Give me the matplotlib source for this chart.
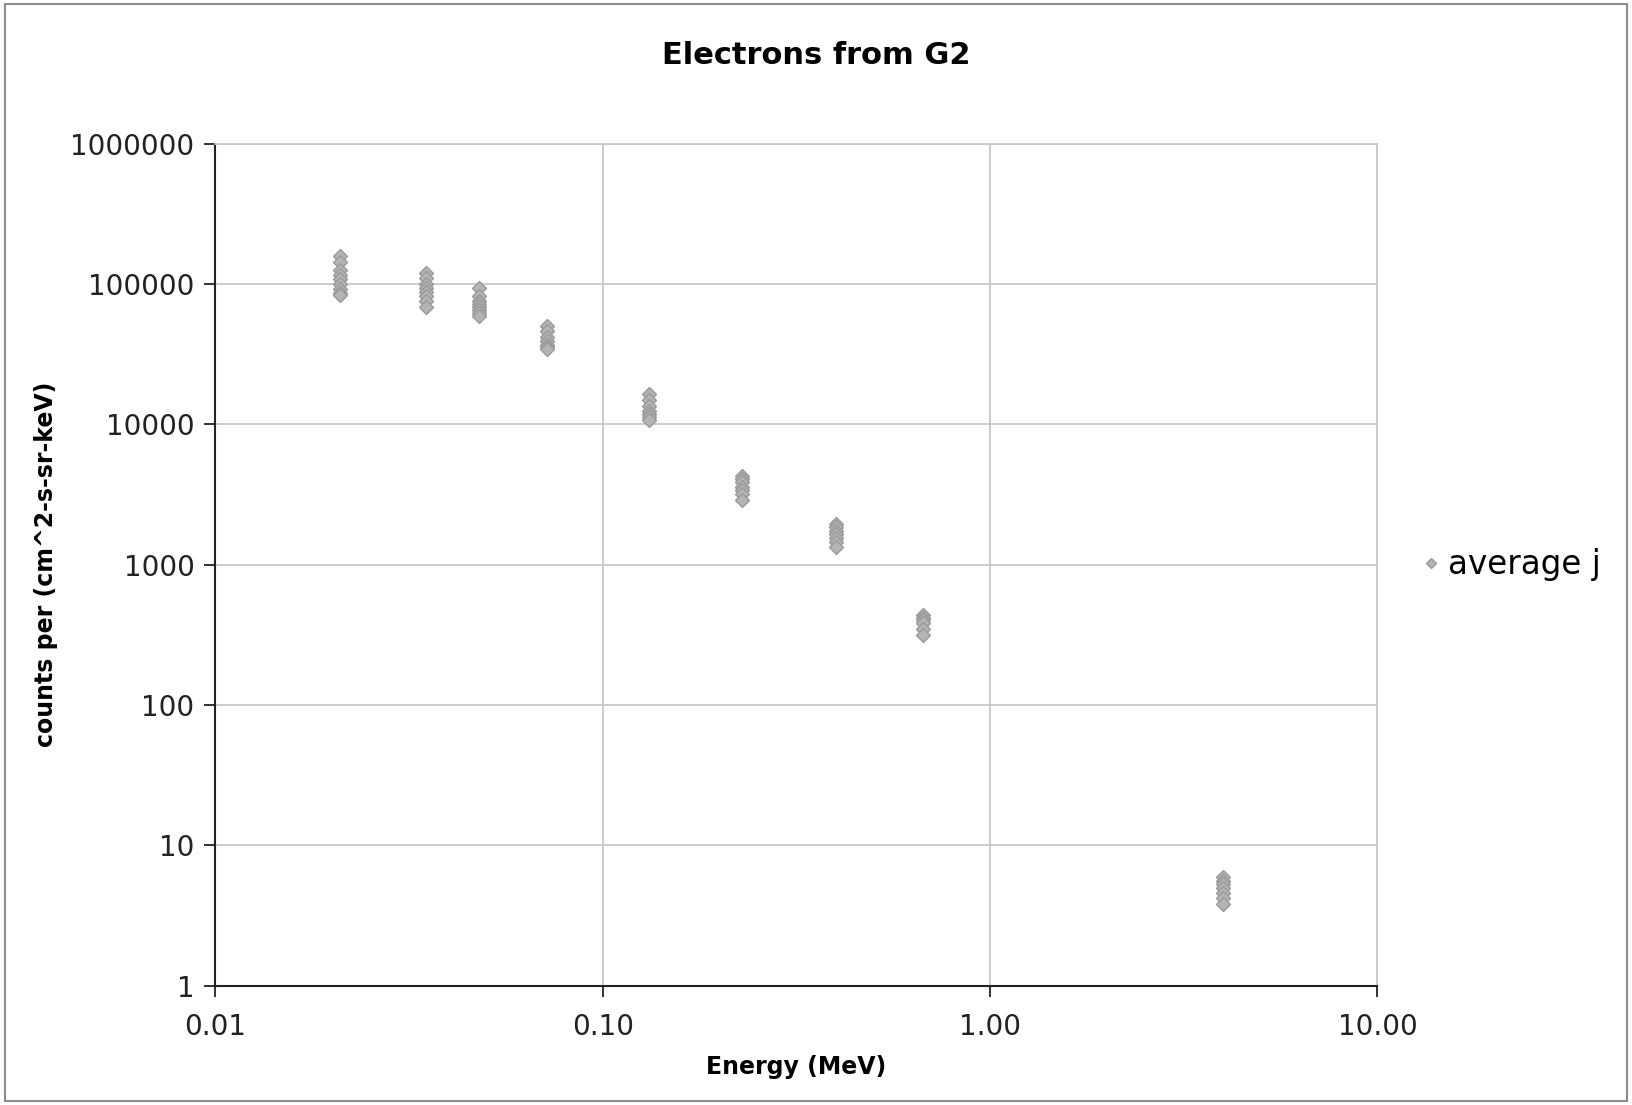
import matplotlib.pyplot as plt
from matplotlib.patches import Rectangle
from matplotlib.ticker import FixedLocator, FixedFormatter

# energy of each channel (MeV) and the spread of averaged fluxes
energies = [0.021, 0.035, 0.048, 0.072, 0.132, 0.229, 0.40, 0.673, 4.0]
flux = [
    [158000, 144000, 126000, 115000, 108000, 100000, 92000, 86000, 83000],
    [120000, 110000, 100000, 93000, 88000, 82000, 76000, 69000],
    [93000, 82000, 76000, 72000, 68000, 65000, 62000, 59000],
    [50000, 46000, 42000, 39000, 37000, 35500, 34500],
    [16500, 14800, 13500, 12500, 11800, 11200, 10800],
    [4300, 4100, 3900, 3600, 3400, 3200, 2900],
    [1950, 1850, 1750, 1650, 1550, 1450, 1330],
    [440, 420, 405, 385, 350, 315],
    [5.9, 5.6, 5.3, 5.0, 4.6, 4.2, 3.8],
]

x_ticks = [0.01, 0.1, 1, 10]
x_labels = ["0.01", "0.10", "1.00", "10.00"]
y_ticks = [1, 10, 100, 1000, 10000, 100000, 1000000]
y_labels = ["1", "10", "100", "1000", "10000", "100000", "1000000"]

plt.rcParams["font.family"] = ["DejaVu Sans"]

fig = plt.figure(figsize=(16.32, 11.05), dpi=100)
ax = fig.add_axes([0.132, 0.108, 0.712, 0.762])

xs, ys = [], []
for e, vals in zip(energies, flux):
    xs += [e] * len(vals)
    ys += vals

ax.plot(xs, ys, linestyle="none", marker="D", markersize=6.8,
        markerfacecolor="#b4b4b4", markeredgecolor="#999999",
        markeredgewidth=1.0, label="average j", zorder=3)

ax.set_xscale("log")
ax.set_yscale("log")
ax.set_xlim(0.01, 10)
ax.set_ylim(1, 1000000)

ax.xaxis.set_major_locator(FixedLocator(x_ticks))
ax.xaxis.set_major_formatter(FixedFormatter(x_labels))
ax.xaxis.set_minor_locator(FixedLocator([]))
ax.yaxis.set_major_locator(FixedLocator(y_ticks))
ax.yaxis.set_major_formatter(FixedFormatter(y_labels))
ax.yaxis.set_minor_locator(FixedLocator([]))

ax.grid(True, color="#c8c8c8", linewidth=1.3)
ax.set_axisbelow(True)
ax.tick_params(axis="both", labelsize=20, length=8, width=1.3,
               color="#222222", labelcolor="#222222")
ax.tick_params(axis="x", pad=12)
ax.tick_params(axis="y", pad=7)

for side in ["top", "right"]:
    ax.spines[side].set_color("#c8c8c8")
    ax.spines[side].set_linewidth(1.3)
for side in ["left", "bottom"]:
    ax.spines[side].set_color("#222222")
    ax.spines[side].set_linewidth(1.5)

# title is centred on the whole chart, not on the plot area
fig.text(0.5, 0.950, "Electrons from G2", fontsize=22, fontweight="bold",
         ha="center", va="center")
ax.set_xlabel("Energy (MeV)", fontsize=17, fontweight="bold", labelpad=10)
ax.set_ylabel("counts per (cm^2-s-sr-keV)", fontsize=17,
              fontweight="bold", labelpad=9)

leg = ax.legend(loc="center left", bbox_to_anchor=(1.010, 0.5),
                frameon=False, fontsize=23.5, handletextpad=0.1,
                handlelength=0.8, markerscale=0.8)

# grey frame around the whole chart
fig.patches.append(Rectangle((0.003, 0.004), 0.994, 0.992,
                             transform=fig.transFigure, fill=False,
                             edgecolor="#8c8c8c", linewidth=1.5))

fig.savefig("out.png", dpi=100)
